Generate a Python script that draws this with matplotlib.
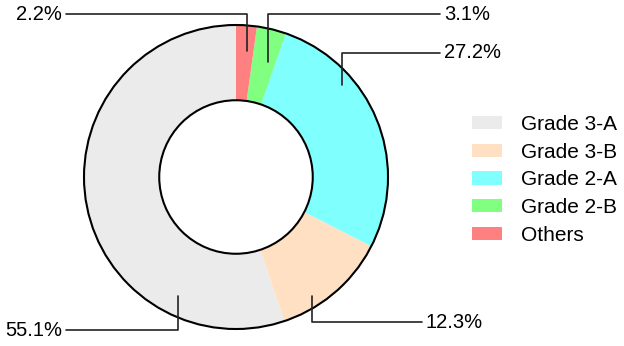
import matplotlib
matplotlib.use("Agg")
import matplotlib.pyplot as plt
from matplotlib.patches import Circle

plt.rcParams["font.family"] = ["Liberation Sans", "DejaVu Sans"]

# data
labels = ["Grade 3-A", "Grade 3-B", "Grade 2-A", "Grade 2-B", "Others"]
shares = [55.1, 12.3, 27.2, 3.1, 2.2]
colors = ["#EBEBEB", "#FFE0C2", "#80FFFF", "#80FF80", "#FF8080"]

# leader line layout (data units, pie radius = 1): anchor point, text position, alignment
callouts = {
    "Grade 3-A": ((-0.382, -0.783), (-1.145, -1.007), "right"),
    "Grade 3-B": ((0.500, -0.783), (1.250, -0.954), "left"),
    "Grade 2-A": ((0.697, 0.605), (1.368, 0.816), "left"),
    "Grade 2-B": ((0.211, 0.757), (1.368, 1.072), "left"),
    "Others": ((0.072, 0.829), (-1.145, 1.072), "right"),
}

fig = plt.figure(figsize=(6.24, 3.46), dpi=100)
ax = fig.add_axes([0, 0, 1, 1])

wedges, _ = ax.pie(shares, colors=colors, startangle=90, counterclock=True,
                   radius=1, wedgeprops=dict(width=0.49, edgecolor="none"))

# outer rim and hole outline
ax.add_patch(Circle((0, 0), 1.0, fill=False, ec="black", lw=1.5, zorder=3))
ax.add_patch(Circle((0, 0), 0.505, fc="white", ec="black", lw=1.5, zorder=3))

for lab, val in zip(labels, shares):
    xy, xytext, ha = callouts[lab]
    ax.annotate(f"{val:.1f}%", xy=xy, xytext=xytext, ha=ha, va="center",
                fontsize=14.5, color="black", zorder=4,
                arrowprops=dict(arrowstyle="-", color="#222222", lw=1.2,
                                shrinkA=1, shrinkB=0,
                                connectionstyle="angle,angleA=0,angleB=90,rad=0"))

ax.set_xlim(-236 / 152, (624 - 236) / 152)
ax.set_ylim(-169 / 152, 177 / 152)
ax.set_aspect("equal")
ax.axis("off")

fig.legend(wedges, labels, loc="center left", bbox_to_anchor=(0.756, 0.48),
           frameon=False, fontsize=15, handlelength=1.45, handleheight=0.6,
           handletextpad=0.9, labelspacing=0.42, borderpad=0, borderaxespad=0)

fig.savefig("out.png", dpi=100)
